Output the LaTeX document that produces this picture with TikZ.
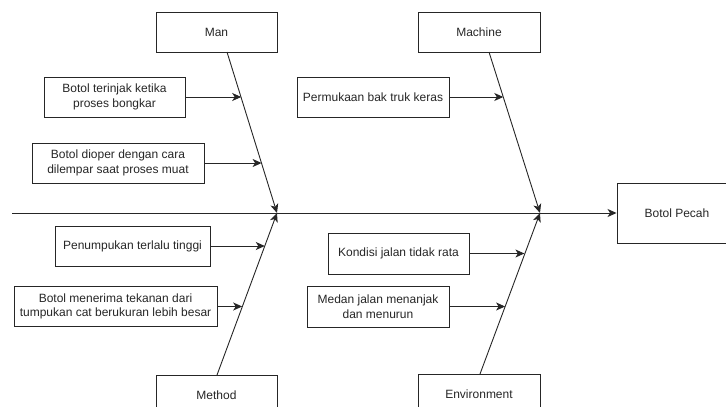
\documentclass[tikz,border=0pt]{standalone}
\usepackage{fontspec}
\setmainfont{Liberation Sans}
\usetikzlibrary{arrows.meta}
\begin{document}
\begin{tikzpicture}[x=1pt,y=-1pt,
  box/.style={draw=black!85, line width=0.9pt, rectangle, inner sep=0pt, align=center,
    text=black!85, font=\fontsize{12}{14.5}\selectfont},
  arr/.style={draw=black!85, line width=0.9pt, -{Stealth[length=9pt,width=8pt,inset=2.5pt]}}]
\useasboundingbox (0,0) rectangle (726,407);
\clip (0,0) rectangle (726,407);
% category boxes
\node[box, minimum width=121pt, minimum height=40pt] (man) at (216.5,32) {Man};
\node[box, minimum width=122pt, minimum height=40pt] (mach) at (479,32) {Machine};
\node[box, minimum width=121pt, minimum height=40pt] (meth) at (216.5,395) {Method};
\node[box, minimum width=122pt, minimum height=40pt] (env) at (479,394) {Environment};
\node[box, minimum width=120pt, minimum height=60pt] (bp) at (677,213) {Botol Pecah};
% cause boxes
\node[box, minimum width=141pt, minimum height=40pt] (c1) at (114.5,97) {Botol terinjak ketika\\proses bongkar};
\node[box, minimum width=172pt, minimum height=40pt] (c2) at (118,163) {Botol dioper dengan cara\\dilempar saat proses muat};
\node[box, minimum width=152pt, minimum height=40pt] (c3) at (373,97) {Permukaan bak truk keras};
\node[box, minimum width=155pt, minimum height=40pt] (c4) at (132.5,246) {Penumpukan terlalu tinggi};
\node[box, minimum width=203pt, minimum height=40pt] (c5) at (115.5,306.5) {Botol menerima tekanan dari\\tumpukan cat berukuran lebih besar};
\node[box, minimum width=141pt, minimum height=41pt] (c6) at (398.5,253.5) {Kondisi jalan tidak rata};
\node[box, minimum width=142pt, minimum height=41pt] (c7) at (378,306.5) {Medan jalan menanjak\\dan menurun};
% bone coordinates
\coordinate (s0) at (12,213);
\coordinate (j1) at (277,213);
\coordinate (j2) at (540,213);
\coordinate (m0) at (227,52);
\coordinate (k0) at (489,52);
\coordinate (t0) at (217,375);
\coordinate (e0) at (480,374);
\coordinate (p1) at (241.2,97);
\coordinate (p2) at (261.6,163);
\coordinate (p3) at (503.3,97);
\coordinate (p4) at (264.8,246);
\coordinate (p5) at (242.2,306.5);
\coordinate (p6) at (524.4,253.5);
\coordinate (p7) at (505.1,306.5);
% spine
\draw[arr] (s0) -- (bp.west);
% bones
\draw[arr] (m0) -- (j1);
\draw[arr] (t0) -- (j1);
\draw[arr] (k0) -- (j2);
\draw[arr] (e0) -- (j2);
% cause arrows
\draw[arr] (c1.east) -- (p1);
\draw[arr] (c2.east) -- (p2);
\draw[arr] (c3.east) -- (p3);
\draw[arr] (c4.east) -- (p4);
\draw[arr] (c5.east) -- (p5);
\draw[arr] (c6.east) -- (p6);
\draw[arr] (c7.east) -- (p7);
\end{tikzpicture}
\end{document}
